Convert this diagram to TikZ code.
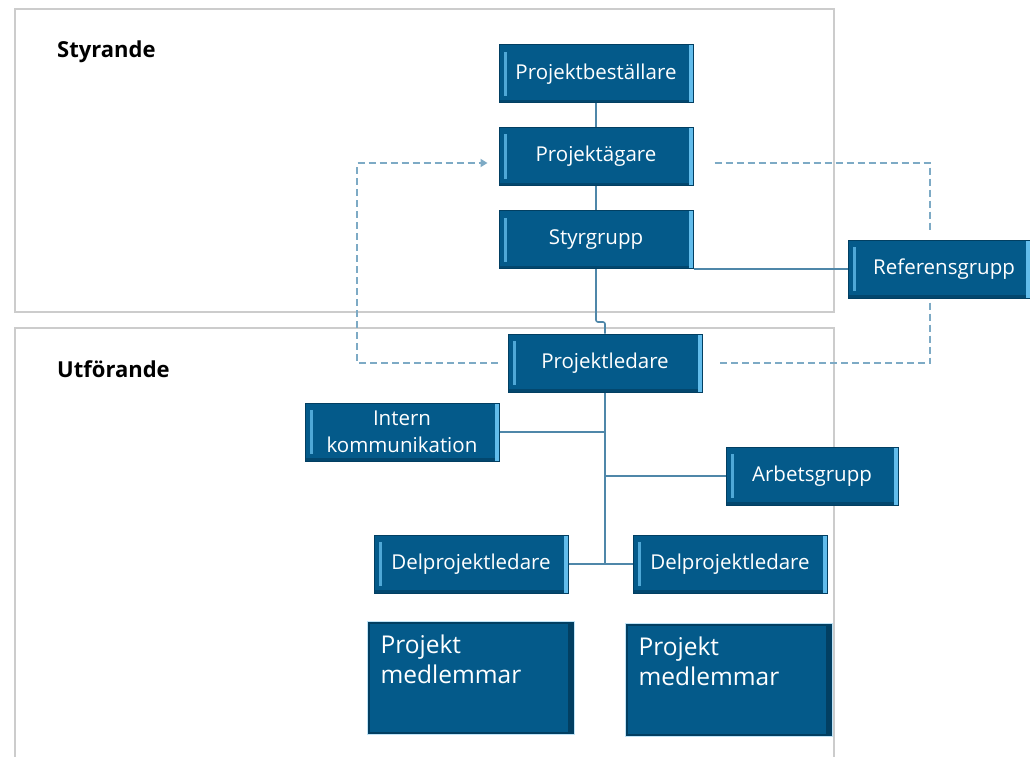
\documentclass[tikz,border=0pt]{standalone}
\usepackage{fontspec}
\setmainfont{Open Sans}
\usetikzlibrary{arrows.meta}
\definecolor{boxblue}{HTML}{045A8A}
\definecolor{boxedge}{HTML}{023F62}
\definecolor{bevel}{HTML}{62BCEB}
\definecolor{wire}{HTML}{4F87A9}
\definecolor{dashwire}{HTML}{7DAAC5}
\definecolor{frame}{HTML}{CCCCCC}
\tikzset{
  orgbox/.style={draw=boxedge, fill=boxblue, line width=1pt, inner sep=0pt,
    minimum width=194pt, minimum height=58pt, text=white, align=center,
    font=\fontsize{20.5}{27}\selectfont,
    path picture={
      \fill[bevel!80!boxblue] ([xshift=5pt,yshift=-7pt]path picture bounding box.north west)
        rectangle ([xshift=8pt,yshift=7pt]path picture bounding box.south west);
      \fill[bevel] ([xshift=-4pt]path picture bounding box.north east)
        rectangle (path picture bounding box.south east);
      \fill[boxedge!70!boxblue] ([yshift=3pt]path picture bounding box.south west)
        rectangle ([xshift=-4pt]path picture bounding box.south east);
    }},
  teambox/.style={draw=boxedge, fill=boxblue, line width=1.2pt, inner sep=0pt,
    minimum width=204pt, minimum height=110pt,
    preaction={draw=bevel!40!white, line width=4pt},
    path picture={
      \fill[boxedge] ([xshift=-5pt]path picture bounding box.north east)
        rectangle (path picture bounding box.south east);
    }},
  teamtext/.style={anchor=north west, text=white, align=left, inner sep=0pt,
    font=\fontsize{24.5}{30}\selectfont},
  heading/.style={anchor=west, inner sep=0pt, font=\bfseries\fontsize{22}{26}\selectfont},
  wireline/.style={draw=wire, line width=1.6pt},
  dashline/.style={draw=dashwire, line width=2.6pt, dash pattern=on 7pt off 4pt},
  groupframe/.style={draw=frame, line width=2pt}
}
\begin{document}
\begin{tikzpicture}[x=1pt, y=-1pt]
\useasboundingbox (0,0) rectangle (1030,757);

% group frames
\draw[groupframe] (15,9) rectangle (834,312);
\draw[groupframe] (15,758) -- (15,328) -- (834,328) -- (834,758);
\node[heading] (hstyr) at (57,52) {Styrande};
\node[heading] (hutf) at (57,369) {Utförande};

% governing boxes
\node[orgbox] (best) at (596,74) {Projektbeställare};
\node[orgbox] (agare) at (596,156.5) {Projektägare};
\node[orgbox] (styr) at (596,239.5) {Styrgrupp};
\node[orgbox, minimum width=182pt] (ref) at (939,269) {\hspace{10pt}Referensgrupp};

% executing boxes
\node[orgbox] (pl) at (605,363) {Projektledare};
\node[orgbox] (intern) at (402,432) {Intern\\kommunikation};
\node[orgbox, minimum width=172pt] (arb) at (812,476) {Arbetsgrupp};
\node[orgbox] (dpl1) at (471,564) {Delprojektledare};
\node[orgbox] (dpl2) at (730,564) {Delprojektledare};

% team boxes
\node[teambox] (team1) at (471,678) {};
\node[teambox] (team2) at (729,680) {};
\node[teamtext] (t1) at ([xshift=12pt,yshift=-12pt]team1.north west) {Projekt\\medlemmar};
\node[teamtext] (t2) at ([xshift=12pt,yshift=-12pt]team2.north west) {Projekt\\medlemmar};

% solid connectors
\draw[wireline] (best.south) -- (agare.north);
\draw[wireline] (agare.south) -- (styr.north);
\draw[wireline, rounded corners=2pt] (styr.south) -- ++(0,53) -| (pl.north);
\draw[wireline] (styr.south east) -- (ref.west |- styr.south east);
\coordinate (junction) at (pl.south |- dpl1.east);
\draw[wireline] (pl.south) -- (junction);
\draw[wireline] (intern.east) -- (intern.east -| pl.south);
\draw[wireline] (arb.west) -- (arb.west -| pl.south);
\draw[wireline] (dpl1.east) -- (dpl2.west);

% dashed connectors
\coordinate (lcorner) at (357,363);
\coordinate (lturn) at (357,163);
\draw[dashline, -{Triangle[length=7pt,width=8pt]}]
  ([xshift=-10pt]pl.west) -- (lcorner) -- (lturn) -- ([xshift=-11pt]agare.west |- lturn);
\coordinate (rturn) at (930,163);
\draw[dashline] ([xshift=21pt]agare.east |- rturn) -- (rturn) -- ([yshift=8pt]ref.north -| rturn);
\coordinate (rcorner) at (930,363);
\draw[dashline] ([yshift=-4pt]ref.south -| rcorner) -- (rcorner) -- ([xshift=16pt]pl.east);
\end{tikzpicture}
\end{document}
